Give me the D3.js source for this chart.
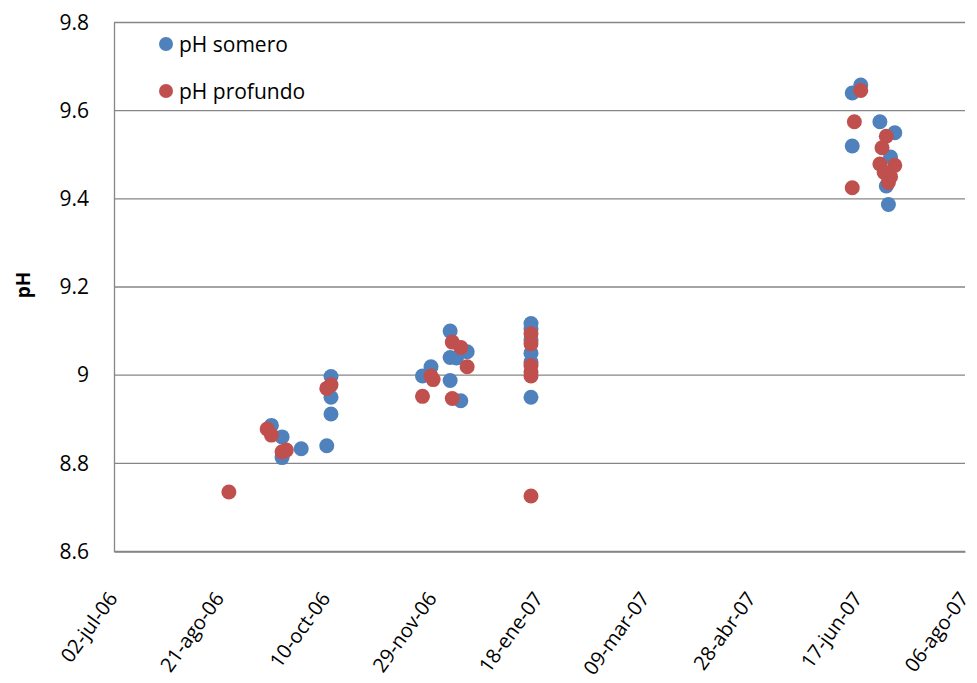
<!DOCTYPE html>
<html>
<head>
<meta charset="utf-8">
<script src="https://cdn.jsdelivr.net/npm/d3@7"></script>
<style>
  html, body { margin: 0; padding: 0; background: #fff; }
  svg text { font-family: "Open Sans", "DejaVu Sans", sans-serif; fill: #000; }
</style>
</head>
<body>
<div id="chart"></div>
<script>
// pH somero (shallow)
const someroDates = [
  '2006-09-14', '2006-09-19', '2006-09-19', '2006-09-28', '2006-10-10', '2006-10-12', '2006-10-12', '2006-10-12',
  '2006-11-24', '2006-11-28', '2006-12-07', '2006-12-07', '2006-12-07', '2006-12-10', '2006-12-12', '2006-12-15',
  '2007-01-14', '2007-01-14', '2007-01-14', '2007-01-14', '2007-01-14', '2007-01-14',
  '2007-06-14', '2007-06-14', '2007-06-18', '2007-06-27', '2007-07-02', '2007-07-04', '2007-06-30', '2007-07-01'
];
const someroValues = [
  8.886, 8.860, 8.813, 8.833, 8.840, 8.912, 8.950, 8.997,
  8.998, 9.019, 9.100, 9.040, 8.988, 9.039, 8.942, 9.053,
  9.117, 9.105, 9.080, 9.050, 9.030, 8.950,
  9.640, 9.520, 9.658, 9.575, 9.495, 9.550, 9.429, 9.387
];

// pH profundo (deep)
const profundoDates = [
  '2006-08-25', '2006-09-12', '2006-09-14', '2006-09-19', '2006-09-21', '2006-10-10', '2006-10-12',
  '2006-11-24', '2006-11-28', '2006-11-29', '2006-12-08', '2006-12-08', '2006-12-12', '2006-12-15',
  '2007-01-14', '2007-01-14', '2007-01-14', '2007-01-14', '2007-01-14', '2007-01-14',
  '2007-06-14', '2007-06-15', '2007-06-18', '2007-06-28', '2007-06-27', '2007-06-29', '2007-06-30',
  '2007-07-02', '2007-07-01', '2007-07-04'
];
const profundoValues = [
  8.735, 8.878, 8.864, 8.826, 8.830, 8.970, 8.978,
  8.952, 8.998, 8.990, 9.075, 8.947, 9.063, 9.019,
  9.094, 9.071, 9.022, 9.007, 8.998, 8.726,
  9.425, 9.575, 9.646, 9.516, 9.479, 9.460, 9.542,
  9.450, 9.437, 9.476
];

// axes
const xTickDates = ['2006-07-02', '2006-08-21', '2006-10-10', '2006-11-29', '2007-01-18',
                    '2007-03-09', '2007-04-28', '2007-06-17', '2007-08-06'];
const xTickLabels = ['02-jul-06', '21-ago-06', '10-oct-06', '29-nov-06', '18-ene-07',
                     '09-mar-07', '28-abr-07', '17-jun-07', '06-ago-07'];
const yTicks = [8.6, 8.8, 9, 9.2, 9.4, 9.6, 9.8];
const seriesNames = ['pH somero', 'pH profundo'];

const width = 977;
const height = 683;
const margin = { top: 22.5, right: 12, bottom: 131.5, left: 114 };
const colors = ['#4F81BD', '#C0504D'];
const radius = 7.5;

const parse = d3.utcParse('%Y-%m-%d');

const svg = d3.select('#chart')
  .append('svg')
  .attr('width', width)
  .attr('height', height);

const x = d3.scaleUtc()
  .domain([parse(xTickDates[0]), parse(xTickDates[xTickDates.length - 1])])
  .range([margin.left, width - margin.right]);

const y = d3.scaleLinear()
  .domain([8.6, 9.8])
  .range([height - margin.bottom, margin.top]);

// gridlines
svg.append('g')
  .selectAll('line')
  .data(yTicks)
  .join('line')
  .attr('x1', margin.left)
  .attr('x2', width - margin.right)
  .attr('y1', d => y(d))
  .attr('y2', d => y(d))
  .attr('stroke', '#868686')
  .attr('stroke-width', 1.3);

// y axis
const yAxis = svg.append('g')
  .attr('transform', `translate(${margin.left},0)`)
  .call(d3.axisLeft(y).tickValues(yTicks).tickSize(0).tickPadding(25).tickFormat(d3.format('')));
yAxis.select('.domain').attr('stroke', '#868686').attr('stroke-width', 1.3);
yAxis.selectAll('text')
  .style('font-size', '21px')
  .style('font-family', '"Open Sans", sans-serif');

// x axis
const xAxis = svg.append('g')
  .attr('transform', `translate(0,${height - margin.bottom})`)
  .call(d3.axisBottom(x)
    .tickValues(xTickDates.map(parse))
    .tickSize(0)
    .tickFormat((d, i) => xTickLabels[i]));
xAxis.select('.domain').attr('stroke', '#868686').attr('stroke-width', 1.3);
xAxis.selectAll('text')
  .attr('y', 0)
  .attr('dy', 0)
  .attr('text-anchor', 'end')
  .attr('transform', 'translate(4,47) rotate(-54)')
  .style('font-size', '20px')
  .style('font-family', '"Open Sans", sans-serif');

// y title
svg.append('text')
  .attr('transform', `translate(30,${(margin.top + height - margin.bottom) / 2 - 2}) rotate(-90)`)
  .attr('text-anchor', 'middle')
  .style('font-size', '19px')
  .style('font-weight', 'bold')
  .text('pH');

// points
const series = [
  someroDates.map((d, i) => ({ date: parse(d), value: someroValues[i] })),
  profundoDates.map((d, i) => ({ date: parse(d), value: profundoValues[i] }))
];

series.forEach((pts, s) => {
  svg.append('g')
    .selectAll('circle')
    .data(pts)
    .join('circle')
    .attr('cx', d => x(d.date))
    .attr('cy', d => y(d.value))
    .attr('r', radius)
    .attr('fill', colors[s]);
});

// legend
const legend = svg.append('g')
  .selectAll('g')
  .data(seriesNames)
  .join('g')
  .attr('transform', (d, i) => `translate(166,${44 + i * 47})`);

legend.append('circle')
  .attr('r', 7)
  .attr('fill', (d, i) => colors[i]);

legend.append('text')
  .attr('x', 13)
  .attr('y', 8)
  .style('font-size', '21px')
  .text(d => d);
</script>
</body>
</html>
